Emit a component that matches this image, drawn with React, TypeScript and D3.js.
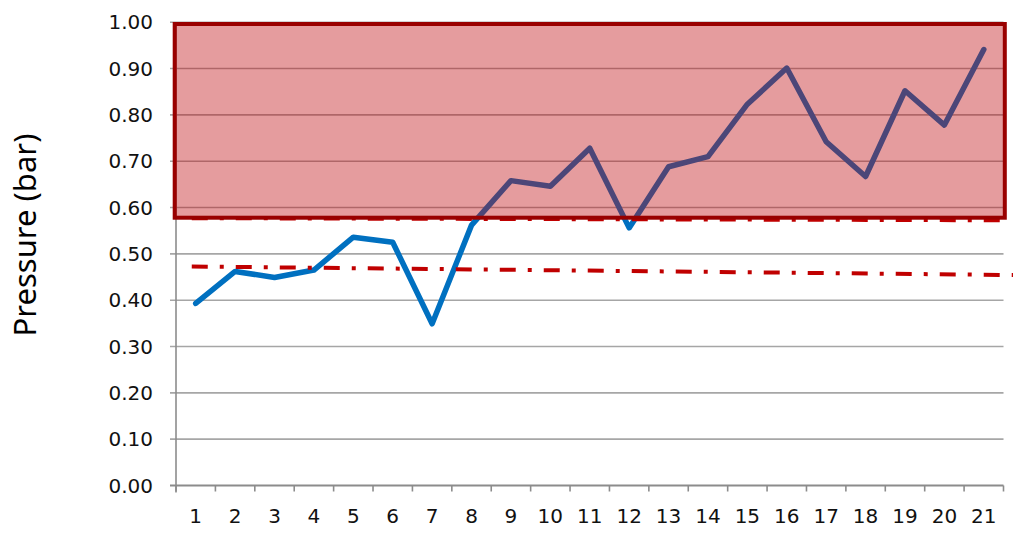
import React from "react";
import * as d3 from "d3";

const categories: string[] = Array.from({ length: 21 }, (_, i) => String(i + 1));
const pressure: number[] = [
  0.393, 0.462, 0.449, 0.465, 0.536, 0.525, 0.349, 0.562, 0.658, 0.646, 0.728,
  0.556, 0.688, 0.71, 0.823, 0.901, 0.742, 0.667, 0.852, 0.778, 0.941,
];
const yTicks: number[] = [0, 0.1, 0.2, 0.3, 0.4, 0.5, 0.6, 0.7, 0.8, 0.9, 1.0];
// trend lines: [x (category position), value]
const lowerTrend: [number, number][] = [
  [0.9, 0.4727],
  [21.75, 0.4543],
];
const upperTrend: [number, number][] = [
  [0.9, 0.577],
  [21.55, 0.5725],
];
const zoneLow = 0.578;
const zoneHigh = 1.0;
const yTitle = "Pressure (bar)";

const W = 1013;
const H = 535;
const left = 176;
const right = 1003.5;
const top = 22.2;
const bottom = 485.5;

export default function App() {
  const x = d3.scaleBand<string>().domain(categories).range([left, right]).paddingInner(0).paddingOuter(0);
  const xPos = d3.scaleLinear().domain([0.5, categories.length + 0.5]).range([left, right]);
  const y = d3.scaleLinear().domain([0, 1]).range([bottom, top]);

  const line = d3
    .line<number>()
    .x((_, i) => (x(categories[i]) as number) + x.bandwidth() / 2)
    .y((d) => y(d));
  const trend = d3
    .line<[number, number]>()
    .x((d) => xPos(d[0]))
    .y((d) => y(d[1]));

  const gridColor = "#a6a6a6";
  const axisColor = "#8c8c8c";
  const tickFont = "'DejaVu Sans', sans-serif";
  const dash = "16 12 4 12";

  const boundaries = categories.map((_, i) => left + i * x.bandwidth()).concat([right]);

  return (
    <svg
      width={W}
      height={H}
      style={{ position: "absolute", left: 0, top: 0, background: "#fff" }}
      xmlns="http://www.w3.org/2000/svg"
    >
      {/* gridlines */}
      {yTicks.map((t) => (
        <line
          key={"g" + t}
          x1={left - 6}
          x2={right}
          y1={y(t)}
          y2={y(t)}
          stroke={t === 0 ? axisColor : gridColor}
          strokeWidth={t === 0 ? 2 : 1.6}
        />
      ))}
      {/* y axis */}
      <line x1={left} x2={left} y1={top} y2={bottom + 7} stroke={axisColor} strokeWidth={1.6} />
      {/* x ticks */}
      {boundaries.map((b, i) => (
        <line key={"xt" + i} x1={b} x2={b} y1={bottom} y2={bottom + 6} stroke={axisColor} strokeWidth={1.6} />
      ))}
      {/* y tick labels */}
      {yTicks.map((t) => (
        <text
          key={"yl" + t}
          x={153}
          y={y(t)}
          dy="0.35em"
          textAnchor="end"
          fontFamily={tickFont}
          fontSize={20}
          fill="#111"
        >
          {t.toFixed(2)}
        </text>
      ))}
      {/* x tick labels */}
      {categories.map((c) => (
        <text
          key={"xl" + c}
          x={(x(c) as number) + x.bandwidth() / 2}
          y={523}
          textAnchor="middle"
          fontFamily={tickFont}
          fontSize={20}
          fill="#111"
        >
          {c}
        </text>
      ))}
      {/* y axis title */}
      <text
        transform={`translate(${36},${235}) rotate(-90)`}
        textAnchor="middle"
        fontFamily="'Noto Sans', sans-serif"
        fontSize={31}
        fill="#000"
      >
        {yTitle}
      </text>
      {/* data line */}
      <path
        d={line(pressure) || ""}
        fill="none"
        stroke="#0070C0"
        strokeWidth={5.5}
        strokeLinejoin="round"
        strokeLinecap="round"
      />
      {/* trend lines */}
      <path d={trend(upperTrend) || ""} fill="none" stroke="#C00000" strokeWidth={4} strokeDasharray={dash} />
      <path d={trend(lowerTrend) || ""} fill="none" stroke="#C00000" strokeWidth={4} strokeDasharray={dash} />
      {/* highlighted zone */}
      <rect
        x={left - 1.3}
        y={y(zoneHigh) + 1.8}
        width={right - left + 2.6}
        height={y(zoneLow) - y(zoneHigh) - 1.8}
        fill="rgba(190,8,12,0.4)"
        stroke="#990000"
        strokeWidth={4}
      />
    </svg>
  );
}
